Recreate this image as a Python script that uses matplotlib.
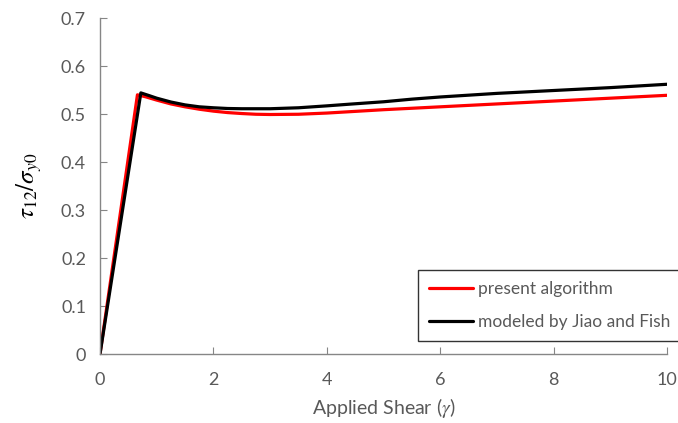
import matplotlib
matplotlib.use("Agg")
import matplotlib.pyplot as plt

red_x = [0, 0.66, 0.8, 1.0, 1.25, 1.5, 1.75, 2.0, 2.25, 2.5, 2.75, 3.0, 3.5, 4.0, 4.5, 5.0, 6.0, 7.0, 8.0, 9.0, 10.0]
red_y = [0, 0.540, 0.536, 0.529, 0.521, 0.515, 0.510, 0.506, 0.503, 0.501, 0.4995, 0.499, 0.4995, 0.502, 0.5055, 0.509, 0.515, 0.521, 0.527, 0.533, 0.539]

black_x = [0, 0.72, 0.85, 1.0, 1.25, 1.5, 1.75, 2.0, 2.25, 2.5, 3.0, 3.5, 4.0, 4.4, 5.0, 5.5, 6.0, 7.0, 8.0, 9.0, 10.0]
black_y = [0, 0.544, 0.539, 0.533, 0.525, 0.519, 0.515, 0.513, 0.5115, 0.511, 0.511, 0.513, 0.517, 0.5205, 0.5255, 0.531, 0.5355, 0.543, 0.549, 0.555, 0.562]

xticks = [0, 2, 4, 6, 8, 10]
yticks = [0, 0.1, 0.2, 0.3, 0.4, 0.5, 0.6, 0.7]
ytick_labels = ["0", "0.1", "0.2", "0.3", "0.4", "0.5", "0.6", "0.7"]

plt.rcParams['font.family'] = ['Lato', 'DejaVu Sans']
plt.rcParams['mathtext.fontset'] = 'stix'
txt = '#595959'
spine = '#868686'

fig = plt.figure(figsize=(6.78, 4.23), dpi=100)
ax = fig.add_axes([0.1475, 0.1631, 0.8365, 0.7943])

kw = dict(lw=2.3, solid_joinstyle='round', solid_capstyle='round')
l1, = ax.plot(red_x, red_y, color='#ff0000', label='present algorithm', **kw)
l2, = ax.plot(black_x, black_y, color='black', label='modeled by Jiao and Fish', **kw)

ax.set_xlim(0, 10)
ax.set_ylim(0, 0.7)
ax.set_xticks(xticks)
ax.set_xticklabels([str(v) for v in xticks])
ax.set_yticks(yticks)
ax.set_yticklabels(ytick_labels)
for s in ['top', 'right']:
    ax.spines[s].set_visible(False)
for s in ['left', 'bottom']:
    ax.spines[s].set_color(spine)
    ax.spines[s].set_linewidth(1.0)
ax.tick_params(direction='in', length=5, color=spine, labelcolor=txt, labelsize=13)
ax.tick_params(axis='x', pad=13)
ax.tick_params(axis='y', pad=10)

ax.set_xlabel(r'Applied Shear ($\gamma$)', color=txt, fontsize=14, labelpad=6)
ax.set_ylabel(r'$\tau_{12}/\sigma_{y0}$', color='black', fontsize=18, labelpad=12)

leg = fig.legend(handles=[l1, l2], loc='upper left', bbox_to_anchor=(0.6165, 0.3617),
                 borderaxespad=0, fontsize=12.5, frameon=True, fancybox=False, edgecolor='black',
                 handlelength=2.5, handletextpad=0.3, labelspacing=0.95, borderpad=0.65)
leg.get_frame().set_linewidth(1.0)
for t in leg.get_texts():
    t.set_color(txt)
for h in leg.get_lines():
    h.set_linewidth(2.3)

fig.savefig('out.png', dpi=100)
